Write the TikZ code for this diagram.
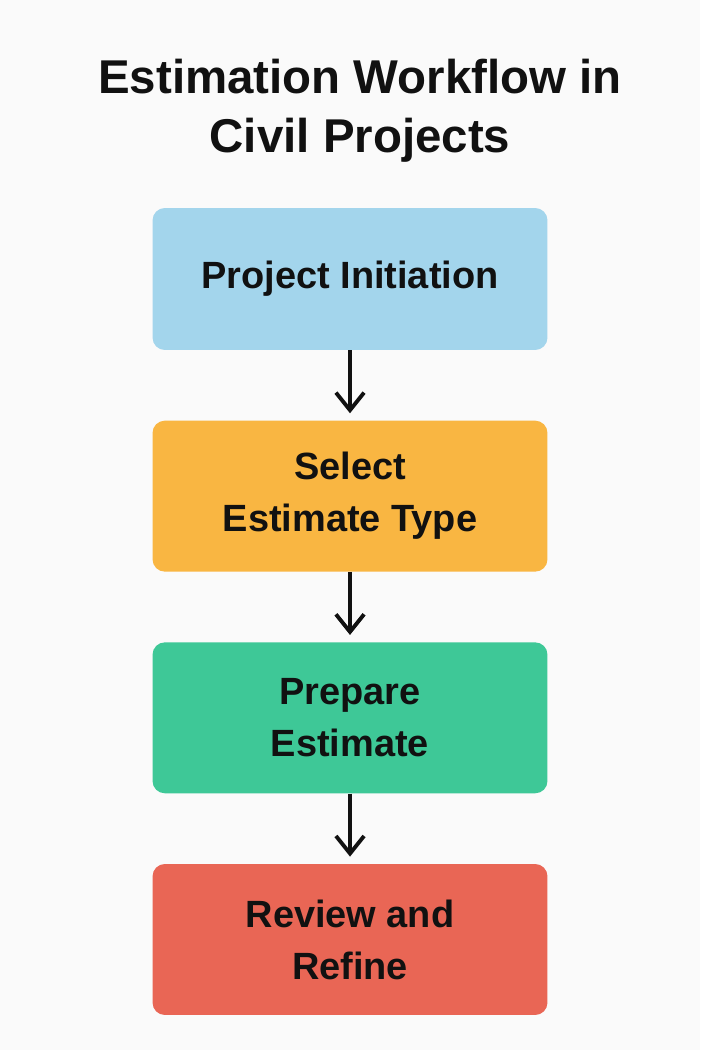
\documentclass[tikz,border=0pt]{standalone}
\usepackage{fontspec}
\setmainfont{Liberation Sans}
\usepackage{xcolor}
\usetikzlibrary{positioning,arrows.meta}

\definecolor{bgpaper}{HTML}{FAFAFA}
\definecolor{initblue}{HTML}{A3D5EC}
\definecolor{typeorange}{HTML}{F9B642}
\definecolor{prepgreen}{HTML}{3EC897}
\definecolor{reviewred}{HTML}{E96655}
\definecolor{inkdark}{HTML}{111111}

\tikzset{
    stagebox/.style={rounded corners=7pt,minimum width=7.9cm,minimum height=3.02cm,
        align=center,text=inkdark,font=\fontsize{21.6}{29.6}\selectfont\bfseries},
    flowarrow/.style={line width=2.2pt,draw=inkdark,-{Straight Barb[length=10pt,width=16pt,line width=2.2pt]},shorten >=4pt}
}

\begin{document}
\begin{tikzpicture}[x=0.02cm,y=-0.02cm,node distance=1.4cm]
            \fill[bgpaper] (0,0) rectangle (700,1050);
            \node[align=center,text=inkdark,font=\fontsize{27}{33.6}\selectfont\bfseries] (title) at (360,111) {Estimation Workflow in\\Civil Projects};
            \node[stagebox,fill=initblue,minimum height=2.84cm] (initiation) at (350,279) {Project Initiation};
            \node[stagebox,fill=typeorange,below=of initiation] (select) {Select\\Estimate Type};
            \node[stagebox,fill=prepgreen,below=of select] (prepare) {Prepare\\Estimate};
            \node[stagebox,fill=reviewred,below=of prepare] (review) {Review and\\Refine};
            \draw[flowarrow] (initiation) -- (select);
            \draw[flowarrow] (select) -- (prepare);
            \draw[flowarrow] (prepare) -- (review);
        \end{tikzpicture}
\end{document}
